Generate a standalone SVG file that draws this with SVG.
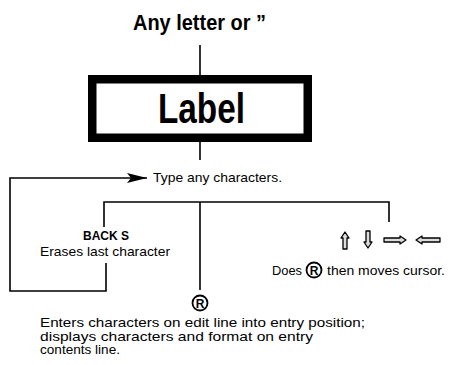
<svg xmlns="http://www.w3.org/2000/svg" width="462" height="365" viewBox="0 0 462 365">
<style>
.t{font-family:"Liberation Sans",Arial,sans-serif;fill:#000;font-size:13.5px}
.b{font-weight:bold}
.sm{font-size:13px}
.ln{stroke:#000;stroke-width:1.6;fill:none}
.ic{stroke:#000;stroke-width:1.3;fill:#ddd;stroke-linejoin:round}
</style>
<defs>
<marker id="ah" markerWidth="20" markerHeight="10" refX="20" refY="5" orient="auto" markerUnits="userSpaceOnUse">
<path d="M0,0 L20,5 L0,10 L4,5 Z" fill="#000"/>
</marker>
</defs>
<rect width="462" height="365" fill="#fff"/>
<g id="connectors">
<line class="ln" x1="200" y1="45" x2="200" y2="76"/>
<line class="ln" x1="200" y1="142" x2="200" y2="160"/>
<polyline class="ln" points="106,263 106,291 10,291 10,178 147,178" marker-end="url(#ah)"/>
<polyline class="ln" points="104,227 104,202 389,202 389,222"/>
<line class="ln" x1="200" y1="202" x2="200" y2="290"/>
</g>
<g id="title">
<text class="t b" x="133" y="30" style="font-size:22px" textLength="133" lengthAdjust="spacingAndGlyphs">Any letter or ”</text>
</g>
<g id="label">
<rect x="92.25" y="79.25" width="215.5" height="58.5" fill="#fff" stroke="#000" stroke-width="8.5"/>
<text class="t b" x="158" y="123" style="font-size:42px" textLength="87" lengthAdjust="spacingAndGlyphs">Label</text>
</g>
<g id="type">
<text class="t" x="153" y="182" textLength="129" lengthAdjust="spacingAndGlyphs">Type any characters.</text>
</g>
<g id="backs">
<text class="t b" x="83" y="240" style="font-size:12.5px" textLength="46" lengthAdjust="spacingAndGlyphs">BACK S</text>
<text class="t" x="40" y="256" textLength="130" lengthAdjust="spacingAndGlyphs">Erases last character</text>
</g>
<g id="cursor">
<polygon class="ic" points="345,232 349,238 347,238 347,249 343,249 343,238 341,238"/>
<polygon class="ic" points="368,248 372,242 370,242 370,231 366,231 366,242 364,242"/>
<polygon class="ic" points="406,240 400,236 400,238 384,238 384,242 400,242 400,244"/>
<polygon class="ic" points="416,240 422,236 422,238 440,238 440,242 422,242 422,244"/>
<text class="t" x="272" y="275" textLength="30" lengthAdjust="spacingAndGlyphs">Does</text>
<circle cx="314" cy="270" r="7.5" fill="none" stroke="#000" stroke-width="1.8"/>
<text class="t b" x="314" y="274.5" style="font-size:12px" text-anchor="middle">R</text>
<text class="t" x="327" y="275" textLength="118" lengthAdjust="spacingAndGlyphs">then moves cursor.</text>
</g>
<g id="enter">
<circle cx="200" cy="303" r="7.5" fill="none" stroke="#000" stroke-width="1.8"/>
<text class="t b" x="200" y="307.5" style="font-size:12px" text-anchor="middle">R</text>
<text class="t sm" x="40" y="327" textLength="325" lengthAdjust="spacingAndGlyphs">Enters characters on edit line into entry position;</text>
<text class="t sm" x="40" y="340.5" textLength="273" lengthAdjust="spacingAndGlyphs">displays characters and format on entry</text>
<text class="t sm" x="40" y="354" textLength="80" lengthAdjust="spacingAndGlyphs">contents line.</text>
</g>
</svg>
